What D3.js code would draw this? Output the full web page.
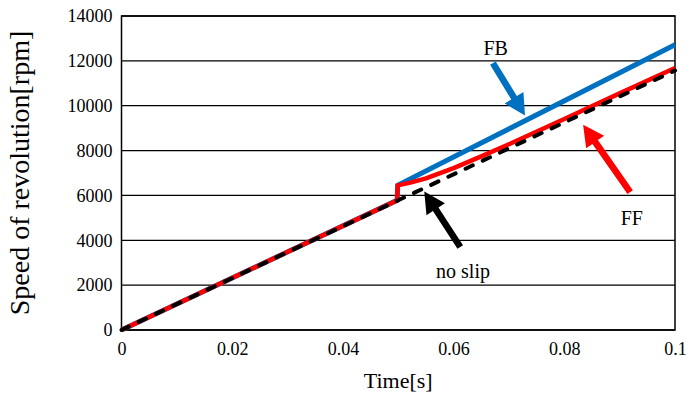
<!DOCTYPE html>
<html>
<head>
<meta charset="utf-8">
<script src="https://cdn.jsdelivr.net/npm/d3@7"></script>
<style>
  html, body { margin: 0; padding: 0; background: #fff; }
  svg { display: block; }
  svg text { font-family: "Liberation Serif", "Times New Roman", serif !important; fill: #000; }
</style>
</head>
<body>
<svg id="chart" width="689" height="401"></svg>
<script>
// ---- data ----
const xTicks = [0, 0.02, 0.04, 0.06, 0.08, 0.1];
const xTickLabels = ["0", "0.02", "0.04", "0.06", "0.08", "0.1"];
const yTicks = [0, 2000, 4000, 6000, 8000, 10000, 12000, 14000];
const yTickLabels = ["0", "2000", "4000", "6000", "8000", "10000", "12000", "14000"];

const fbTime  = [0, 0.0498, 0.0499, 0.1];
const fbSpeed = [0, 5780, 6450, 12720];

const ffTime  = [0, 0.0498, 0.0499, 0.052, 0.055, 0.06, 0.065, 0.07, 0.08, 0.09, 0.1];
const ffSpeed = [0, 5780, 6450, 6560, 6760, 7220, 7740, 8280, 9410, 10550, 11680];

const noSlipTime  = [0, 0.1];
const noSlipSpeed = [0, 11570];

// annotations: [time, speed] of arrow tail and tip, and label anchors
const arrowNames = ["FB", "FF", "noslip"];
const arrowTail = [[0.0671, 11900], [0.0919, 6150], [0.0612, 3700]];
const arrowTip  = [[0.0729, 9560], [0.0834, 9150], [0.0547, 6170]];
const labelTexts = ["FB", "FF", "no slip"];
const labelPos = [[0.0676, 12260], [0.0922, 4680], [0.0617, 2320]];

// ---- layout ----
const svg = d3.select("#chart");
const margin = {left: 121.5, right: 14, top: 16, bottom: 71};
const W = 689, H = 401;
const x = d3.scaleLinear().domain([0, 0.1]).range([margin.left, W - margin.right]);
const y = d3.scaleLinear().domain([0, 14000]).range([H - margin.bottom, margin.top]);
const serif = "'Liberation Serif', 'Times New Roman', serif";

// gridlines
svg.append("g")
  .selectAll("line").data(yTicks).join("line")
  .attr("x1", x(0)).attr("x2", x(0.1))
  .attr("y1", d => y(d)).attr("y2", d => y(d))
  .attr("stroke", "#000").attr("stroke-width", 1.3);

// frame
svg.append("rect")
  .attr("x", x(0)).attr("y", y(14000))
  .attr("width", x(0.1) - x(0)).attr("height", y(0) - y(14000))
  .attr("fill", "none").attr("stroke", "#000").attr("stroke-width", 1.5);

// axes (labels only)
const xAxis = d3.axisBottom(x).tickValues(xTicks)
  .tickFormat((d, i) => xTickLabels[i]).tickSize(0).tickPadding(12);
svg.append("g").attr("transform", `translate(0,${y(0)})`).call(xAxis)
  .attr("font-family", serif).attr("font-size", 18)
  .call(g => g.select(".domain").remove())
  .call(g => g.selectAll("text").attr("fill", "#000").attr("font-family", serif));

const yAxis = d3.axisLeft(y).tickValues(yTicks)
  .tickFormat((d, i) => yTickLabels[i]).tickSize(0).tickPadding(9);
svg.append("g").attr("transform", `translate(${x(0)},0)`).call(yAxis)
  .attr("font-family", serif).attr("font-size", 18)
  .call(g => g.select(".domain").remove())
  .call(g => g.selectAll("text").attr("fill", "#000").attr("font-family", serif));

// axis titles
svg.append("text").attr("x", (x(0) + x(0.1)) / 2).attr("y", 388)
  .attr("text-anchor", "middle").attr("font-family", serif)
  .style("font-size", "22px").text("Time[s]");
svg.append("text")
  .attr("transform", `translate(29,${(y(0) + y(14000)) / 2}) rotate(-90)`)
  .attr("text-anchor", "middle").attr("font-family", serif)
  .style("font-size", "28px").text("Speed of revolution[rpm]");

// lines
const line = d3.line().x(d => x(d[0])).y(d => y(d[1]));
const fb = fbTime.map((t, i) => [t, fbSpeed[i]]);
const ff = ffTime.map((t, i) => [t, ffSpeed[i]]);
const ns = noSlipTime.map((t, i) => [t, noSlipSpeed[i]]);

svg.append("path").datum(fb).attr("d", line)
  .attr("fill", "none").attr("stroke", "#0070C0").attr("stroke-width", 5);
svg.append("path").datum(ff).attr("d", line)
  .attr("fill", "none").attr("stroke", "#FF0000").attr("stroke-width", 4.5)
  .attr("stroke-linejoin", "round");
svg.append("path").datum(ns).attr("d", line)
  .attr("fill", "none").attr("stroke", "#000").attr("stroke-width", 4)
  .attr("stroke-dasharray", "8,11").attr("stroke-linecap", "round");

// arrows
const arrowColors = ["#0070C0", "#FF0000", "#000000"];
function arrowPath(tail, tip) {
  const x0 = x(tail[0]), y0 = y(tail[1]), x1 = x(tip[0]), y1 = y(tip[1]);
  const dx = x1 - x0, dy = y1 - y0, L = Math.hypot(dx, dy);
  const ux = dx / L, uy = dy / L, px = -uy, py = ux;
  const shaft = 3.3, head = 11, headLen = 21;
  const bx = x1 - ux * headLen, by = y1 - uy * headLen;
  const pts = [
    [x0 + px * shaft, y0 + py * shaft],
    [bx + px * shaft, by + py * shaft],
    [bx + px * head, by + py * head],
    [x1, y1],
    [bx - px * head, by - py * head],
    [bx - px * shaft, by - py * shaft],
    [x0 - px * shaft, y0 - py * shaft]
  ];
  return "M" + pts.map(p => p.join(",")).join("L") + "Z";
}
svg.append("g").selectAll("path").data(arrowNames).join("path")
  .attr("d", (d, i) => arrowPath(arrowTail[i], arrowTip[i]))
  .attr("fill", (d, i) => arrowColors[i]);

// labels
svg.append("g").selectAll("text").data(labelTexts).join("text")
  .attr("x", (d, i) => x(labelPos[i][0]))
  .attr("y", (d, i) => y(labelPos[i][1]))
  .attr("text-anchor", "middle").attr("font-family", serif)
  .style("font-size", "20px").text(d => d);
</script>
</body>
</html>
